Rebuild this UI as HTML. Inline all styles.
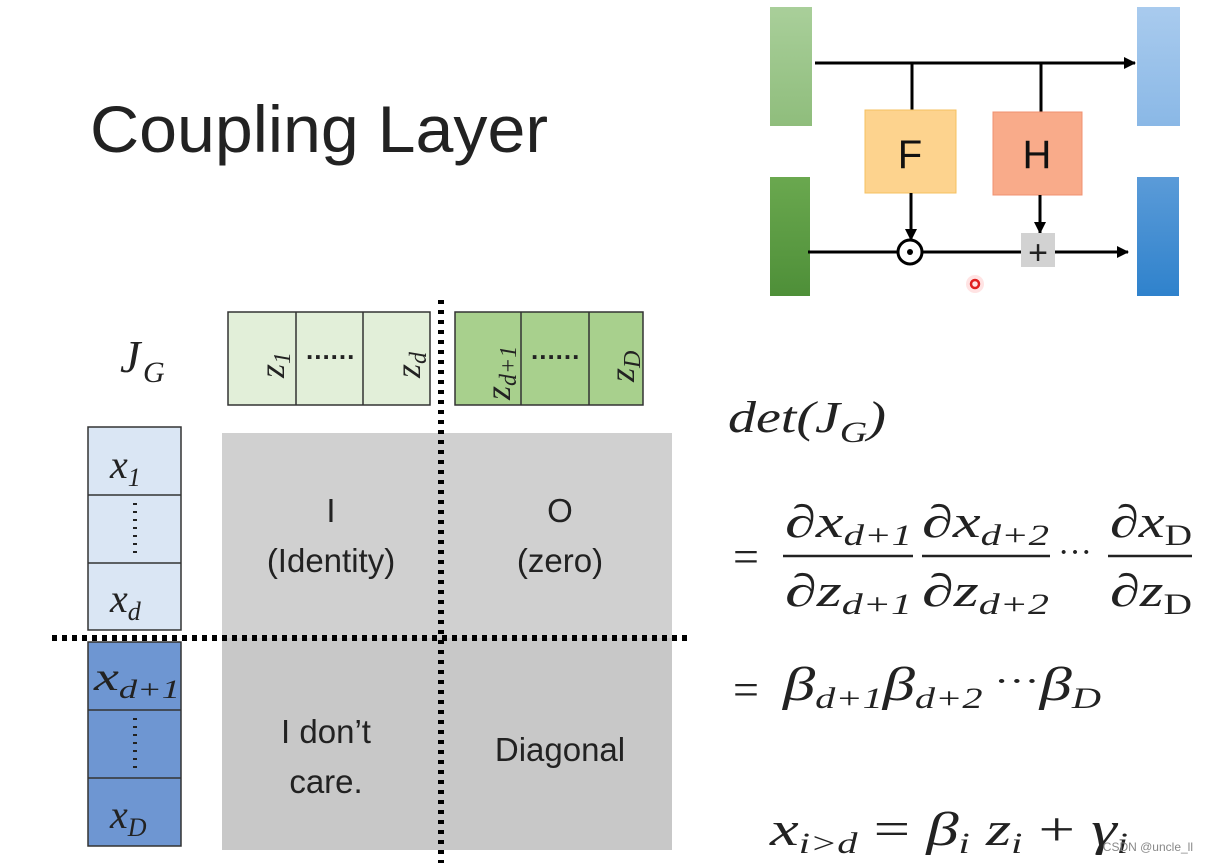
<!DOCTYPE html>
<html><head><meta charset="utf-8"><style>
html,body{margin:0;padding:0;background:#fff;}
svg{display:block}
.s{font-family:"Liberation Sans",sans-serif;}
.m{font-family:"Liberation Serif",serif;font-style:italic;}
.r{font-family:"Liberation Serif",serif;}
</style></head><body>
<svg width="1208" height="863" viewBox="0 0 1208 863" xmlns="http://www.w3.org/2000/svg">
<defs>
<linearGradient id="g1" x1="0" y1="0" x2="0" y2="1"><stop offset="0" stop-color="#a9cf9a"/><stop offset="1" stop-color="#8fbd7c"/></linearGradient>
<linearGradient id="g2" x1="0" y1="0" x2="0" y2="1"><stop offset="0" stop-color="#6aa84f"/><stop offset="1" stop-color="#4e8f38"/></linearGradient>
<linearGradient id="b1" x1="0" y1="0" x2="0" y2="1"><stop offset="0" stop-color="#a9cbee"/><stop offset="1" stop-color="#8ab8e6"/></linearGradient>
<linearGradient id="b2" x1="0" y1="0" x2="0" y2="1"><stop offset="0" stop-color="#5b9bd8"/><stop offset="1" stop-color="#2f82cc"/></linearGradient>
<marker id="ah" markerWidth="12" markerHeight="12" refX="11" refY="6" orient="auto" markerUnits="userSpaceOnUse"><path d="M0,0 L12,6 L0,12 Z" fill="#000"/></marker>
</defs>

<text x="90" y="152" class="s" font-size="66" fill="#222" textLength="458" lengthAdjust="spacingAndGlyphs">Coupling Layer</text>

<!-- top-right diagram -->
<rect x="770" y="7" width="42" height="119" fill="url(#g1)"/>
<rect x="770" y="177" width="40" height="119" fill="url(#g2)"/>
<rect x="1137" y="7" width="43" height="119" fill="url(#b1)"/>
<rect x="1137" y="177" width="42" height="119" fill="url(#b2)"/>
<line x1="815" y1="63" x2="1135" y2="63" stroke="#000" stroke-width="3" marker-end="url(#ah)"/>
<line x1="912" y1="63" x2="912" y2="111" stroke="#000" stroke-width="3"/>
<line x1="1041" y1="63" x2="1041" y2="113" stroke="#000" stroke-width="3"/>
<rect x="865" y="110" width="91" height="83" fill="#fdd38e" stroke="#f5c060" stroke-width="1"/>
<rect x="993" y="112" width="89" height="83" fill="#f9ab8a" stroke="#f09070" stroke-width="1"/>
<text x="910" y="168" class="s" font-size="40" text-anchor="middle" fill="#111">F</text>
<text x="1037" y="168" class="s" font-size="40" text-anchor="middle" fill="#111">H</text>
<line x1="808" y1="252" x2="1128" y2="252" stroke="#000" stroke-width="3" marker-end="url(#ah)"/>
<line x1="911" y1="193" x2="911" y2="240" stroke="#000" stroke-width="3" marker-end="url(#ah)"/>
<line x1="1040" y1="195" x2="1040" y2="233" stroke="#000" stroke-width="3" marker-end="url(#ah)"/>
<circle cx="910" cy="252" r="12" fill="#fff" stroke="#000" stroke-width="3"/>
<circle cx="910" cy="252" r="3" fill="#000"/>
<rect x="1021" y="233" width="34" height="34" fill="#d2d2d2"/>
<text x="1038" y="264" class="s" font-size="34" text-anchor="middle" fill="#222">+</text>
<circle cx="975" cy="284" r="9" fill="#ffd0d0" opacity="0.6"/>
<circle cx="975" cy="284" r="4" fill="none" stroke="#e02020" stroke-width="2.5"/>

<!-- J_G -->
<text x="120" y="372" class="m" font-size="46" fill="#222">J</text>
<text x="143" y="382" class="m" font-size="30" fill="#222">G</text>

<!-- z boxes -->
<rect x="228" y="312" width="202" height="93" fill="#e2efd9" stroke="#333" stroke-width="1.5"/>
<line x1="296" y1="312" x2="296" y2="405" stroke="#333" stroke-width="1.5"/>
<line x1="363" y1="312" x2="363" y2="405" stroke="#333" stroke-width="1.5"/>
<rect x="455" y="312" width="188" height="93" fill="#a8d08d" stroke="#333" stroke-width="1.5"/>
<line x1="521" y1="312" x2="521" y2="405" stroke="#333" stroke-width="1.5"/>
<line x1="589" y1="312" x2="589" y2="405" stroke="#333" stroke-width="1.5"/>
<text x="306" y="359" class="s" font-size="26" fill="#222" letter-spacing="1" font-weight="bold">......</text>
<text x="531" y="359" class="s" font-size="26" fill="#222" letter-spacing="1" font-weight="bold">......</text>
<g class="m" font-size="36" fill="#222">
<text transform="translate(284,378) rotate(-90)">z<tspan font-size="24" dy="6">1</tspan></text>
<text transform="translate(420,378) rotate(-90)">z<tspan font-size="24" dy="6">d</tspan></text>
<text transform="translate(510,400) rotate(-90)">z<tspan font-size="24" dy="6">d+1</tspan></text>
<text transform="translate(634,382) rotate(-90)">z<tspan font-size="24" dy="6">D</tspan></text>
</g>

<!-- gray matrix -->
<rect x="222" y="433" width="450" height="205" fill="#d0d0d0"/>
<rect x="222" y="638" width="450" height="212" fill="#c8c8c8"/>
<g class="s" font-size="33" fill="#222" text-anchor="middle">
<text x="331" y="522">I</text>
<text x="331" y="572">(Identity)</text>
<text x="560" y="522">O</text>
<text x="560" y="572">(zero)</text>
<text x="326" y="743">I don’t</text>
<text x="326" y="793">care.</text>
<text x="560" y="761">Diagonal</text>
</g>

<!-- x column -->
<rect x="88" y="427" width="93" height="203" fill="#dae6f4" stroke="#333" stroke-width="1.5"/>
<line x1="88" y1="495" x2="181" y2="495" stroke="#333" stroke-width="1.5"/>
<line x1="88" y1="563" x2="181" y2="563" stroke="#333" stroke-width="1.5"/>
<rect x="88" y="642" width="93" height="204" fill="#6e96d2" stroke="#333" stroke-width="1.5"/>
<line x1="88" y1="710" x2="181" y2="710" stroke="#333" stroke-width="1.5"/>
<line x1="88" y1="778" x2="181" y2="778" stroke="#333" stroke-width="1.5"/>
<line x1="135" y1="503" x2="135" y2="557" stroke="#222" stroke-width="4" stroke-dasharray="2,6"/>
<line x1="135" y1="718" x2="135" y2="772" stroke="#222" stroke-width="4" stroke-dasharray="2,6"/>
<g class="m" font-size="40" fill="#222">
<text x="110" y="478">x<tspan font-size="26" dy="8">1</tspan></text>
<text x="110" y="612">x<tspan font-size="26" dy="8">d</tspan></text>
<text x="94" y="690" textLength="86" lengthAdjust="spacingAndGlyphs">x<tspan font-size="26" dy="8">d+1</tspan></text>
<text x="110" y="828">x<tspan font-size="26" dy="8">D</tspan></text>
</g>

<!-- dotted lines -->
<line x1="441" y1="300" x2="441" y2="863" stroke="#000" stroke-width="6" stroke-dasharray="4,6"/>
<line x1="52" y1="638" x2="690" y2="638" stroke="#000" stroke-width="6" stroke-dasharray="5,5"/>

<!-- equations -->
<text x="728" y="432" class="m" font-size="44" fill="#222" textLength="158" lengthAdjust="spacingAndGlyphs">det(J<tspan font-size="30" dy="10">G</tspan><tspan dy="-10">)</tspan></text>
<text x="733" y="572" class="r" font-size="46" fill="#222">=</text>
<g class="m" font-size="46" fill="#222">
<text x="785" y="537" textLength="127" lengthAdjust="spacingAndGlyphs">∂x<tspan font-size="30" dy="8">d+1</tspan></text>
<text x="785" y="606" textLength="127" lengthAdjust="spacingAndGlyphs">∂z<tspan font-size="30" dy="8">d+1</tspan></text>
<text x="922" y="537" textLength="127" lengthAdjust="spacingAndGlyphs">∂x<tspan font-size="30" dy="8">d+2</tspan></text>
<text x="922" y="606" textLength="127" lengthAdjust="spacingAndGlyphs">∂z<tspan font-size="30" dy="8">d+2</tspan></text>
<text x="1110" y="537" textLength="82" lengthAdjust="spacingAndGlyphs">∂x<tspan font-size="30" dy="8" font-style="normal">D</tspan></text>
<text x="1110" y="606" textLength="82" lengthAdjust="spacingAndGlyphs">∂z<tspan font-size="30" dy="8" font-style="normal">D</tspan></text>
</g>
<line x1="783" y1="556" x2="913" y2="556" stroke="#222" stroke-width="2.5"/>
<line x1="922" y1="556" x2="1050" y2="556" stroke="#222" stroke-width="2.5"/>
<line x1="1108" y1="556" x2="1192" y2="556" stroke="#222" stroke-width="2.5"/>
<text x="1058" y="563" class="r" font-size="34" fill="#222">···</text>
<text x="733" y="705" class="r" font-size="46" fill="#222">=</text>
<text x="783" y="700" class="m" font-size="48" fill="#222" textLength="318" lengthAdjust="spacingAndGlyphs">β<tspan font-size="30" dy="8">d+1</tspan><tspan dy="-8">β</tspan><tspan font-size="30" dy="8">d+2</tspan><tspan font-style="normal" font-size="34" dy="-16"> ···</tspan><tspan dy="8">β</tspan><tspan font-size="30" dy="8">D</tspan></text>
<text x="770" y="845" class="m" font-size="48" fill="#222" textLength="358" lengthAdjust="spacingAndGlyphs">x<tspan font-size="30" dy="8">i&gt;d</tspan><tspan font-style="normal" dy="-8"> = </tspan>β<tspan font-size="30" dy="8">i</tspan><tspan dy="-8"> z</tspan><tspan font-size="30" dy="8">i</tspan><tspan font-style="normal" dy="-8">  + </tspan>γ<tspan font-size="30" dy="8">i</tspan></text>
<text x="1193" y="851" class="s" font-size="12" fill="#888" text-anchor="end">CSDN @uncle_ll</text>
</svg>
</body></html>
